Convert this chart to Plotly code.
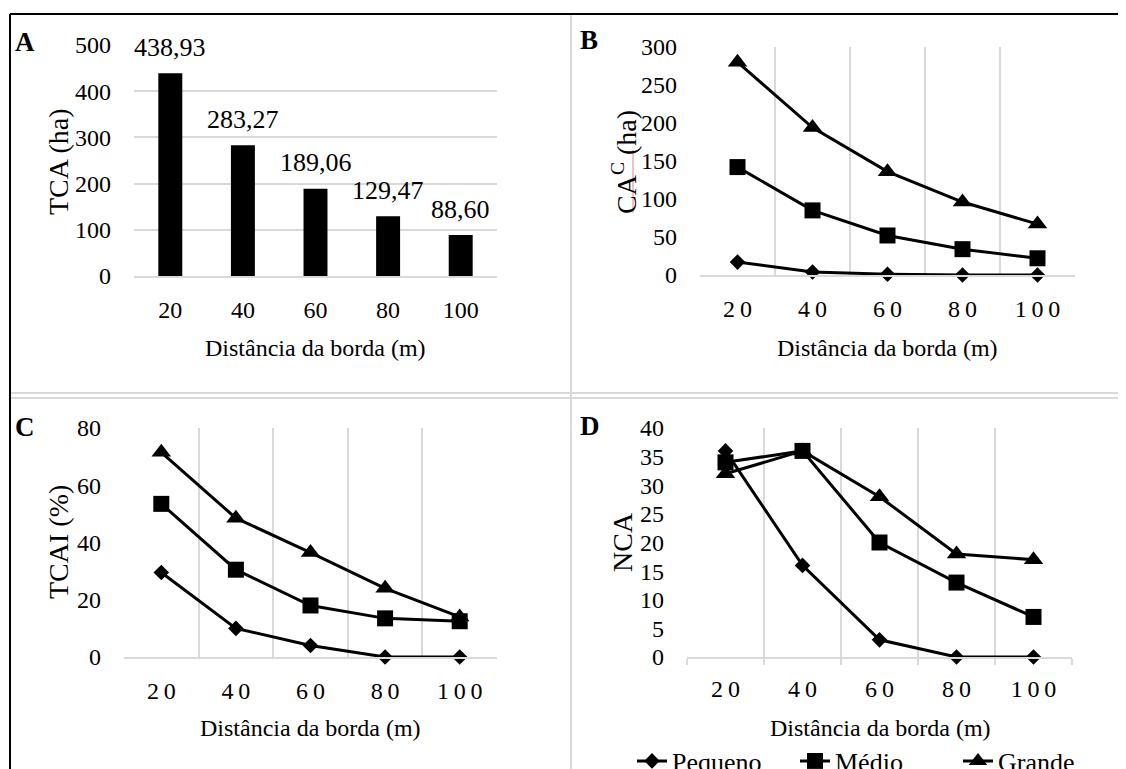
import plotly.graph_objects as go

# screenshot window and page offset (browser body margin)
W, H = 1126, 769
OFF = 8
FW, FH = W - OFF, H - OFF

# ---------------- data ----------------
distances = ["20", "40", "60", "80", "100"]
tca = [438.93, 283.27, 189.06, 129.47, 88.60]
cac_pequeno = [17, 4, 1, 0, 0]
cac_medio = [142, 85, 52, 34, 22]
cac_grande = [280, 194, 136, 96, 67]
tcai_pequeno = [29.5, 10, 4, 0, 0]
tcai_medio = [53.5, 30.5, 18, 13.5, 12.5]
tcai_grande = [71.5, 48.5, 36.5, 24, 14]
nca_pequeno = [36, 16, 3, 0, 0]
nca_medio = [34, 36, 20, 13, 7]
nca_grande = [32, 36, 28, 18, 17]
series_names = ["Pequeno", "Médio", "Grande"]
spaced_ticks = ["\u2009".join(d) for d in distances]

FONT = "Liberation Serif, Times New Roman, serif"
GRID = "#d9d9d9"


def px(x):
    return (x - OFF) / FW


def py(y):
    return 1 - (y - OFF) / FH


fig = go.Figure()

# Panel A: bars
fig.add_trace(go.Bar(x=distances, y=tca, marker=dict(color="black", line=dict(width=0)),
                     width=0.33, showlegend=False, xaxis="x", yaxis="y"))

symbols = [("diamond", 12), ("square", 16), ("triangle-up", 17)]
panels = [
    ("x2", "y2", [cac_pequeno, cac_medio, cac_grande], False),
    ("x3", "y3", [tcai_pequeno, tcai_medio, tcai_grande], False),
    ("x4", "y4", [nca_pequeno, nca_medio, nca_grande], True),
]
for xa, ya, series, legend in panels:
    for name, vals, (sym, sz) in zip(series_names, series, symbols):
        fig.add_trace(go.Scatter(
            x=distances, y=vals, name=name, mode="lines+markers",
            line=dict(color="black", width=3),
            marker=dict(symbol=sym, size=sz, color="black"),
            showlegend=legend, xaxis=xa, yaxis=ya, cliponaxis=False))

tickfont = dict(family=FONT, size=24, color="black")


def xcat(domain, ticktext, grid, anchor, ticks=False):
    d = dict(domain=domain, type="category", categoryorder="array", categoryarray=distances,
             range=[-0.5, len(distances) - 0.5], anchor=anchor,
             tickvals=distances, ticktext=ticktext, tickfont=tickfont,
             showline=True, linecolor=GRID, linewidth=1.5, ticklabelstandoff=11,
             showgrid=grid, gridcolor=GRID, gridwidth=1.5, zeroline=False, fixedrange=True)
    if grid:
        d["tickson"] = "boundaries"
    if ticks:
        d.update(ticks="outside", ticklen=6, tickcolor=GRID, tickwidth=1.5, ticklabelstandoff=9)
    return d


def yax(domain, rng, dtick, grid, anchor):
    return dict(domain=domain, range=rng, dtick=dtick, tickfont=tickfont, anchor=anchor,
                showgrid=grid, gridcolor=GRID, gridwidth=1.5, zeroline=False,
                showline=False, ticklabelstandoff=22, fixedrange=True)


fig.update_layout(
    width=FW, height=FH,
    margin=dict(l=0, r=0, t=0, b=0, autoexpand=False),
    paper_bgcolor="white", plot_bgcolor="white",
    font=dict(family=FONT, color="black"),
    xaxis=xcat([px(134), px(497)], distances, False, "y"),
    yaxis=yax([py(276), py(45)], [0, 500], 100, True, "x"),
    xaxis2=xcat([px(700), px(1075)], spaced_ticks, True, "y2"),
    yaxis2=yax([py(275), py(47)], [0, 300], 50, False, "x2"),
    xaxis3=xcat([px(124), px(497)], spaced_ticks, True, "y3"),
    yaxis3=yax([py(657), py(428)], [0, 80], 20, False, "x3"),
    xaxis4=xcat([px(687), px(1072)], spaced_ticks, True, "y4", ticks=True),
    yaxis4=yax([py(657), py(428)], [0, 40], 5, False, "x4"),
    legend=dict(orientation="h", x=px(632), xanchor="left", y=py(761), yanchor="middle",
                font=dict(family=FONT, size=26, color="black"), bgcolor="rgba(0,0,0,0)",
                entrywidth=118, entrywidthmode="pixels"),
)

ann = []
# data labels on bars (category index positions)
for i, v in enumerate(tca):
    ann.append(dict(x=i, y=v, xref="x", yref="y", text=f"{v:.2f}".replace(".", ","),
                    showarrow=False, yanchor="middle", yshift=26,
                    font=dict(family=FONT, size=26, color="black")))


def text(x, y, t, size=24, angle=0, bold=False, xanchor="center"):
    ann.append(dict(x=px(x), y=py(y), xref="paper", yref="paper",
                    text=f"<b>{t}</b>" if bold else t,
                    showarrow=False, textangle=angle, xanchor=xanchor, yanchor="middle",
                    font=dict(family=FONT, size=size, color="black")))


xt = "Distância da borda (m)"
text(316, 348, xt)
text(887, 348, xt)
text(310, 728, xt)
text(880, 728, xt)
text(58, 162, "TCA (ha)", size=28, angle=-90)
text(624, 162, "CA<sup>C</sup> (ha)", size=28, angle=-90)
text(58, 542, "TCAI (%)", size=28, angle=-90)
text(622, 542, "NCA", size=28, angle=-90)
text(13, 42, "A", size=27, bold=True, xanchor="left")
text(578, 40, "B", size=27, bold=True, xanchor="left")
text(13, 427, "C", size=27, bold=True, xanchor="left")
text(578, 426, "D", size=27, bold=True, xanchor="left")
fig.update_layout(annotations=ann)

shapes = []


def line(x0, y0, x1, y1, color, w):
    shapes.append(dict(type="line", xref="paper", yref="paper", x0=px(x0), y0=py(y0),
                       x1=px(x1), y1=py(y1), line=dict(color=color, width=w)))


line(10, 393, W, 393, GRID, 2)
line(10, 398, W, 398, GRID, 2)
line(571, 14, 571, H, GRID, 2)
line(10, 14, W, 14, "black", 2)
line(10, 14, 10, H, "black", 2)
line(633, 150, 633, 213, "#e88080", 1)
fig.update_layout(shapes=shapes)

fig.write_html("out.html")
